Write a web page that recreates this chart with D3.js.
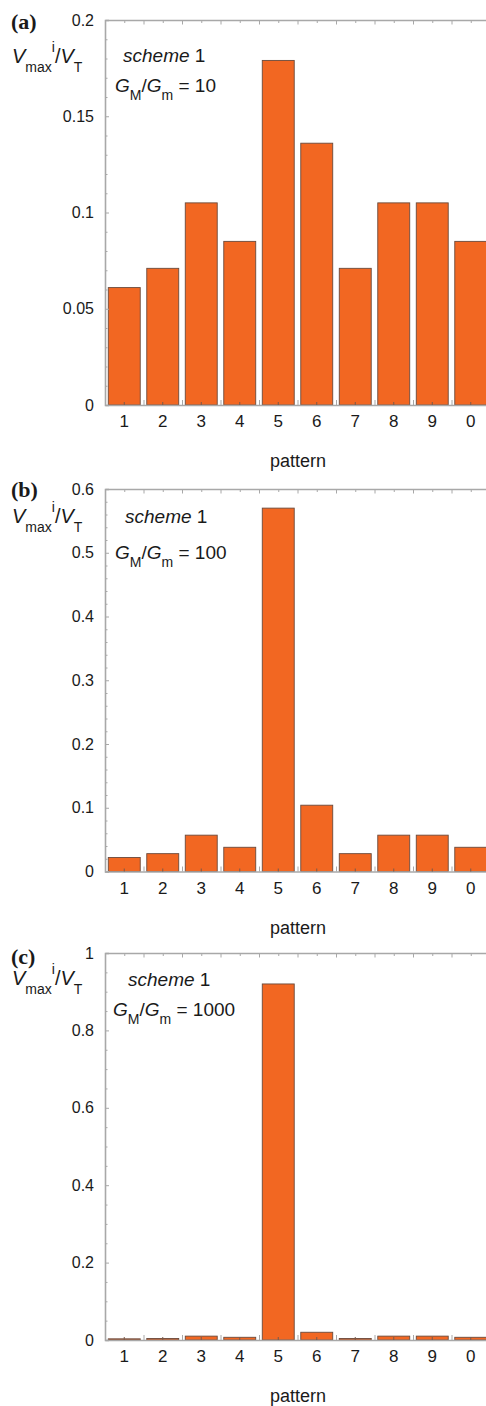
<!DOCTYPE html>
<html>
<head>
<meta charset="utf-8">
<script src="https://cdn.jsdelivr.net/npm/d3@7"></script>
<style>
  html, body { margin: 0; padding: 0; background: #fff; }
  svg { display: block; }
</style>
</head>
<body>
<svg id="chart" width="486" height="1406" font-family="'Liberation Sans', Arial, sans-serif"></svg>
<script>
// ---------------- data ----------------
const categories = ["1", "2", "3", "4", "5", "6", "7", "8", "9", "0"];
const valuesA = [0.061, 0.071, 0.105, 0.085, 0.179, 0.136, 0.071, 0.105, 0.105, 0.085];
const valuesB = [0.022, 0.028, 0.057, 0.038, 0.570, 0.104, 0.028, 0.057, 0.057, 0.038];
const valuesC = [0.003, 0.004, 0.010, 0.007, 0.920, 0.020, 0.004, 0.010, 0.010, 0.007];
const panelLabels = ["(a)", "(b)", "(c)"];
const ratioLabels = ["10", "100", "1000"];
const yMaxes = [0.2, 0.6, 1.0];
const yMajorTicks = [
  [0, 0.05, 0.1, 0.15, 0.2],
  [0, 0.1, 0.2, 0.3, 0.4, 0.5, 0.6],
  [0, 0.2, 0.4, 0.6, 0.8, 1]
];
const yMajorLabels = [
  ["0", "0.05", "0.1", "0.15", "0.2"],
  ["0", "0.1", "0.2", "0.3", "0.4", "0.5", "0.6"],
  ["0", "0.2", "0.4", "0.6", "0.8", "1"]
];
const yMinorSteps = [0.01, 0.02, 0.05];
const xTitle = "pattern";

// ---------------- layout ----------------
const left = 105, right = 490;
const panels = [
  { top: 20,  zero: 405,   lab: 29,  title: 63,  scheme: 62,  schemeX: 123, g: 92,   gX: 115 },
  { top: 489, zero: 871.5, lab: 497, title: 523, scheme: 523, schemeX: 125, g: 559,  gX: 115 },
  { top: 953, zero: 1340,  lab: 964, title: 985, scheme: 986, schemeX: 128, g: 1016, gX: 113 }
];
const allValues = [valuesA, valuesB, valuesC];

const svg = d3.select("#chart");
const axisColor = "#a8a8a8";
const textColor = "#1a1a1a";

panels.forEach((p, i) => {
  const vals = allValues[i];
  const data = categories.map((c, j) => ({ c, v: vals[j] }));
  const x = d3.scaleBand().domain(categories).range([left, right])
    .paddingInner(0.17).paddingOuter(0.085);
  const xb = d3.scaleLinear().domain([0, categories.length]).range([left, right]);
  const y = d3.scaleLinear().domain([0, yMaxes[i]]).range([p.zero, p.top]);
  const g = svg.append("g");

  // bars
  g.selectAll("rect.bar").data(data).enter().append("rect")
    .attr("class", "bar")
    .attr("x", d => x(d.c))
    .attr("width", x.bandwidth())
    .attr("y", d => y(d.v))
    .attr("height", d => y(0) - y(d.v))
    .attr("fill", "#F26722")
    .attr("stroke", "#6a4a3c")
    .attr("stroke-width", 0.9);

  const minorTicks = d3.range(0, yMaxes[i] + 1e-9, yMinorSteps[i])
    .filter(t => !yMajorTicks[i].some(m => Math.abs(m - t) < 1e-9));

  const styleAxis = sel => {
    sel.selectAll("path.domain").attr("stroke", axisColor).attr("stroke-width", 1.6);
    sel.selectAll(".tick line").attr("stroke", axisColor).attr("stroke-width", 1);
  };

  // left axis major
  const la = g.append("g").attr("transform", `translate(${left},0)`)
    .call(d3.axisLeft(y).tickValues(yMajorTicks[i])
      .tickFormat((d, k) => yMajorLabels[i][k]).tickSize(-4).tickPadding(11));
  styleAxis(la);
  la.attr("font-family", null).attr("font-size", null);
  la.selectAll("text").attr("font-size", 16).attr("fill", textColor);
  // left axis minor
  const lm = g.append("g").attr("transform", `translate(${left},0)`)
    .call(d3.axisLeft(y).tickValues(minorTicks).tickFormat("").tickSize(-2.5));
  styleAxis(lm); lm.select("path.domain").remove();

  // right axis
  const ra = g.append("g").attr("transform", `translate(${right},0)`)
    .call(d3.axisRight(y).tickValues(yMajorTicks[i]).tickFormat("").tickSize(-4));
  styleAxis(ra);
  const rm = g.append("g").attr("transform", `translate(${right},0)`)
    .call(d3.axisRight(y).tickValues(minorTicks).tickFormat("").tickSize(-2.5));
  styleAxis(rm); rm.select("path.domain").remove();

  // top axis: boundaries (long) and centers (short)
  const boundaries = d3.range(1, categories.length);
  const centers = d3.range(0, categories.length).map(k => k + 0.5);
  const ta = g.append("g").attr("transform", `translate(0,${p.top})`)
    .call(d3.axisTop(xb).tickValues(boundaries).tickFormat("").tickSize(-4.5).tickSizeOuter(0));
  styleAxis(ta);
  const tc = g.append("g").attr("transform", `translate(0,${p.top})`)
    .call(d3.axisTop(xb).tickValues(centers).tickFormat("").tickSize(-3));
  styleAxis(tc); tc.select("path.domain").remove();

  // bottom axis: boundaries (long, gray) and centers (short) with labels
  const ba = g.append("g").attr("transform", `translate(0,${p.zero})`)
    .call(d3.axisBottom(xb).tickValues(boundaries).tickFormat("").tickSize(-5).tickSizeOuter(0));
  styleAxis(ba);
  const bc = g.append("g").attr("transform", `translate(0,${p.zero})`)
    .call(d3.axisBottom(x).tickSize(-3).tickPadding(10));
  styleAxis(bc); bc.select("path.domain").remove();
  bc.attr("font-family", null).attr("font-size", null);
  bc.selectAll(".tick line").attr("stroke", "#7a5a4a");
  bc.selectAll("text").attr("font-size", 17).attr("fill", textColor);

  // x title
  g.append("text").attr("x", 298).attr("y", p.zero + 62).attr("fill", textColor)
    .attr("text-anchor", "middle").attr("font-size", 18).text(xTitle);

  // panel label
  g.append("text").attr("x", 11).attr("y", p.lab).attr("fill", textColor)
    .style("font-family", "'Liberation Serif', 'Times New Roman', serif")
    .style("font-weight", "bold").style("font-size", "22px").text(panelLabels[i]);

  // y title V_max^i / V_T
  const yt = g.append("text").attr("x", 12).attr("y", p.title).attr("font-size", 20).attr("fill", textColor);
  yt.append("tspan").attr("font-style", "italic").text("V");
  yt.append("tspan").attr("font-size", 14).attr("dy", 9).text("max");
  yt.append("tspan").attr("font-size", 14).attr("dy", -20).text("i");
  yt.append("tspan").attr("dy", 11).text("/");
  yt.append("tspan").attr("font-style", "italic").text("V");
  yt.append("tspan").attr("font-size", 14).attr("dy", 9).text("T");

  // annotation: scheme 1
  const st = g.append("text").attr("x", p.schemeX).attr("y", p.scheme).attr("font-size", 19).attr("fill", textColor);
  st.append("tspan").attr("font-style", "italic").text("scheme");
  st.append("tspan").text(" 1");

  // annotation: G_M/G_m = N
  const gt = g.append("text").attr("x", p.gX).attr("y", p.g).attr("font-size", 19).attr("fill", textColor);
  gt.append("tspan").attr("font-style", "italic").text("G");
  gt.append("tspan").attr("font-size", 14).attr("dy", 8).text("M");
  gt.append("tspan").attr("dy", -8).text("/");
  gt.append("tspan").attr("font-style", "italic").text("G");
  gt.append("tspan").attr("font-size", 14).attr("dy", 8).text("m");
  gt.append("tspan").attr("dy", -8).text(" = " + ratioLabels[i]);
});
</script>
</body>
</html>
